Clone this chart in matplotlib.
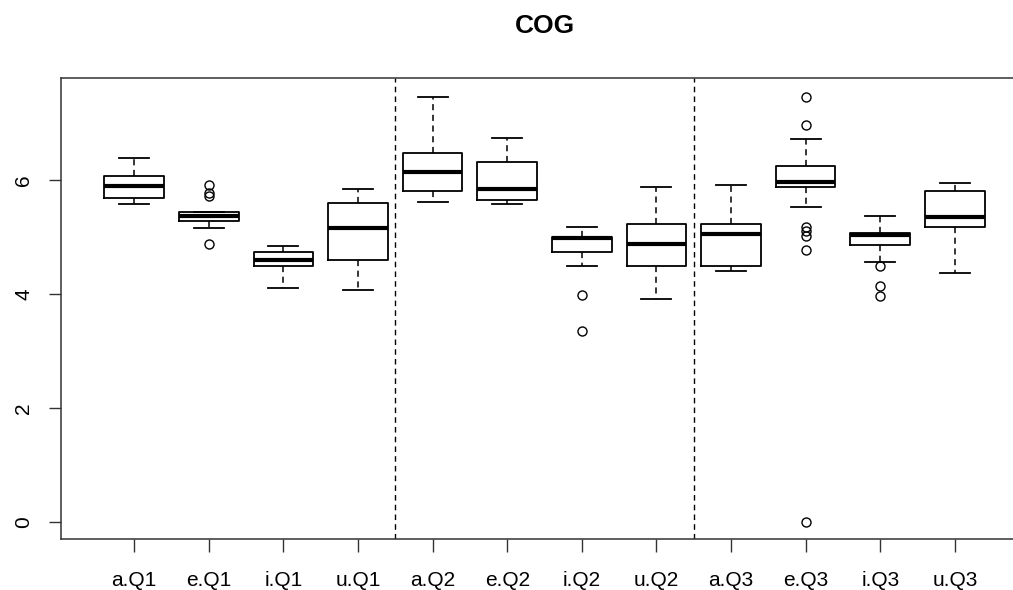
import matplotlib
matplotlib.use("Agg")
import matplotlib.pyplot as plt

plt.rcParams['font.family'] = ['Liberation Sans', 'DejaVu Sans']

labels = ["a.Q1", "e.Q1", "i.Q1", "u.Q1",
          "a.Q2", "e.Q2", "i.Q2", "u.Q2",
          "a.Q3", "e.Q3", "i.Q3", "u.Q3"]
whisker_low = [5.58, 5.16, 4.11, 4.08, 5.63, 5.58, 4.49, 3.91, 4.41, 5.53, 4.56, 4.38]
q1_values   = [5.70, 5.28, 4.49, 4.61, 5.81, 5.66, 4.75, 4.49, 4.49, 5.88, 4.86, 5.18]
medians     = [5.91, 5.38, 4.61, 5.16, 6.15, 5.85, 4.99, 4.88, 5.06, 5.98, 5.05, 5.36]
q3_values   = [6.08, 5.44, 4.74, 5.60, 6.49, 6.33, 5.01, 5.23, 5.23, 6.25, 5.08, 5.81]
whisker_high = [6.40, 5.45, 4.84, 5.85, 7.47, 6.75, 5.18, 5.88, 5.92, 6.73, 5.38, 5.95]
outliers = [
    [],
    [5.92, 5.78, 5.72, 4.88],
    [],
    [],
    [],
    [],
    [3.99, 3.36],
    [],
    [],
    [7.47, 6.98, 5.18, 5.11, 5.03, 4.78, 0.0],
    [4.49, 4.15, 3.97],
    [],
]
separators = [4.5, 8.5]
yticks = [0, 2, 4, 6]

stats = []
for i, lab in enumerate(labels):
    stats.append(dict(label=lab, whislo=whisker_low[i], q1=q1_values[i],
                      med=medians[i], q3=q3_values[i], whishi=whisker_high[i],
                      fliers=outliers[i]))

fig = plt.figure(figsize=(10.13, 5.90), dpi=100)
ax = fig.add_axes([61/1013, 51/590, 967/1013, 461/590])

positions = list(range(1, len(labels) + 1))
ax.bxp(stats, positions=positions, widths=0.8,
       boxprops=dict(color='black', linewidth=1.3),
       medianprops=dict(color='black', linewidth=3.0),
       whiskerprops=dict(color='black', linewidth=1.1, linestyle=(0, (4, 3))),
       capprops=dict(color='black', linewidth=1.3),
       flierprops=dict(marker='o', markerfacecolor='none', markeredgecolor='black',
                       markersize=6.5, markeredgewidth=1.0, linestyle='none'),
       capwidths=0.4)

for s in separators:
    ax.axvline(s, color='black', linewidth=1.0, linestyle=(0, (4, 3)))

ax.set_xlim(0.02, 12.98)
ax.set_ylim(-0.3, 7.8)
ax.set_xticks(positions)
ax.set_xticklabels(labels, fontsize=15)
ax.set_yticks(yticks)
ax.set_yticklabels([str(v) for v in yticks], fontsize=15, rotation=90, va='center')
ax.tick_params(axis='x', length=9, width=1, pad=14, colors='#333333', labelcolor='black')
ax.tick_params(axis='y', length=9, width=1, pad=11, colors='#333333', labelcolor='black')
for sp in ax.spines.values():
    sp.set_linewidth(1.1)
    sp.set_color('#333333')

fig.text(545/1013, 1 - 26/590, "COG", ha='center', va='center',
         fontsize=19, fontweight='bold')

fig.savefig("out.png", dpi=100)
